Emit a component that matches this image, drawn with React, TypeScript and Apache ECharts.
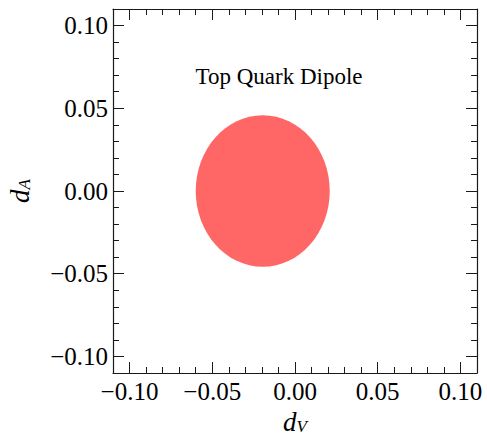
import React, { useEffect, useRef } from "react";
import * as echarts from "echarts";

const axisMin = -0.11;
const axisMax = 0.11;
const majorTickValues = [-0.1, -0.05, 0, 0.05, 0.1];
const majorTickLabels = ["\u22120.10", "\u22120.05", "0.00", "0.05", "0.10"];
const minorTickInterval = 0.01;
// ellipse region: [centerX, centerY, semiAxisX, semiAxisY]
const regionEllipse = [[-0.0195, 0.0, 0.0405, 0.0458]];
const regionColor = "#ff6666";
const titleText = "Top Quark Dipole";
const xName = ["d", "V"];
const yName = ["d", "A"];

const FONT = "Liberation Serif, Times New Roman, serif";
const FRAME = "#1a1a1a";

function labelFor(v: number): string {
  const i = majorTickValues.findIndex((t) => Math.abs(t - v) < 1e-9);
  return i >= 0 ? majorTickLabels[i] : "";
}

const nameRich = {
  d: { fontFamily: FONT, fontStyle: "italic", fontSize: 27, color: "#000", lineHeight: 26 },
  s: {
    fontFamily: FONT,
    fontStyle: "italic",
    fontSize: 17,
    color: "#000",
    lineHeight: 26,
    verticalAlign: "bottom",
  },
};

export default function App() {
  const ref = useRef<HTMLDivElement>(null);
  useEffect(() => {
    if (!ref.current) return;
    const chart = echarts.init(ref.current, null, { renderer: "svg" });
    const gridPos = {
      left: 113,
      right: 10,
      top: 9,
      bottom: 64,
      containLabel: false,
      outerBoundsMode: "none",
    };
    const minorAxis = (position: string, grid: number, showLabel: boolean, isX: boolean) => ({
      type: "value",
      gridIndex: grid,
      position,
      min: axisMin,
      max: axisMax,
      interval: minorTickInterval,
      splitLine: { show: false },
      axisLine: { show: true, onZero: false, lineStyle: { color: FRAME, width: 1.2 } },
      axisTick: { show: true, inside: true, length: 6, lineStyle: { color: FRAME, width: 1 } },
      axisLabel: {
        show: showLabel,
        customValues: majorTickValues,
        formatter: (v: number) => labelFor(v),
        fontFamily: FONT,
        fontSize: 25,
        color: "#000",
        margin: isX ? 6 : 5,
      },
    });
    const majorAxis = (position: string, grid: number) => ({
      type: "value",
      gridIndex: grid,
      position,
      min: axisMin,
      max: axisMax,
      splitLine: { show: false },
      axisLine: { show: false, onZero: false },
      axisTick: {
        show: true,
        inside: true,
        length: 11,
        customValues: majorTickValues,
        lineStyle: { color: FRAME, width: 1 },
      },
      axisLabel: { show: false, customValues: majorTickValues },
    });

    const xBottom: any = minorAxis("bottom", 0, true, true);
    xBottom.name = `{d|${xName[0]}}{s|${xName[1]}}`;
    xBottom.nameLocation = "middle";
    xBottom.nameGap = 36;
    xBottom.nameTextStyle = { rich: nameRich };
    const yLeft: any = minorAxis("left", 0, true, false);
    yLeft.name = `{d|${yName[0]}}{s|${yName[1]}}`;
    yLeft.nameLocation = "middle";
    yLeft.nameGap = 80;
    yLeft.nameTextStyle = { rich: nameRich };

    chart.setOption({
      animation: false,
      backgroundColor: "#fff",
      grid: [gridPos, gridPos],
      xAxis: [
        xBottom,
        minorAxis("top", 0, false, true),
        majorAxis("bottom", 1),
        majorAxis("top", 1),
      ],
      yAxis: [
        yLeft,
        minorAxis("right", 0, false, false),
        majorAxis("left", 1),
        majorAxis("right", 1),
      ],
      graphic: [
        {
          type: "text",
          x: 279,
          y: 76,
          style: {
            text: titleText,
            font: `23px ${FONT}`,
            fill: "#000",
            textAlign: "center",
            textVerticalAlign: "middle",
          },
        },
      ],
      series: [
        {
          type: "custom",
          xAxisIndex: 0,
          yAxisIndex: 0,
          data: regionEllipse,
          encode: { x: 0, y: 1 },
          renderItem: (params: any, api: any) => {
            const c = api.coord([api.value(0), api.value(1)]);
            const s = api.size([api.value(2), api.value(3)]);
            return {
              type: "ellipse",
              shape: { cx: c[0], cy: c[1], rx: s[0], ry: s[1] },
              style: { fill: regionColor },
            };
          },
        },
      ],
    });
    return () => chart.dispose();
  }, []);
  return <div ref={ref} style={{ width: 487, height: 437, position: "absolute", left: 0, top: 0 }} />;
}
